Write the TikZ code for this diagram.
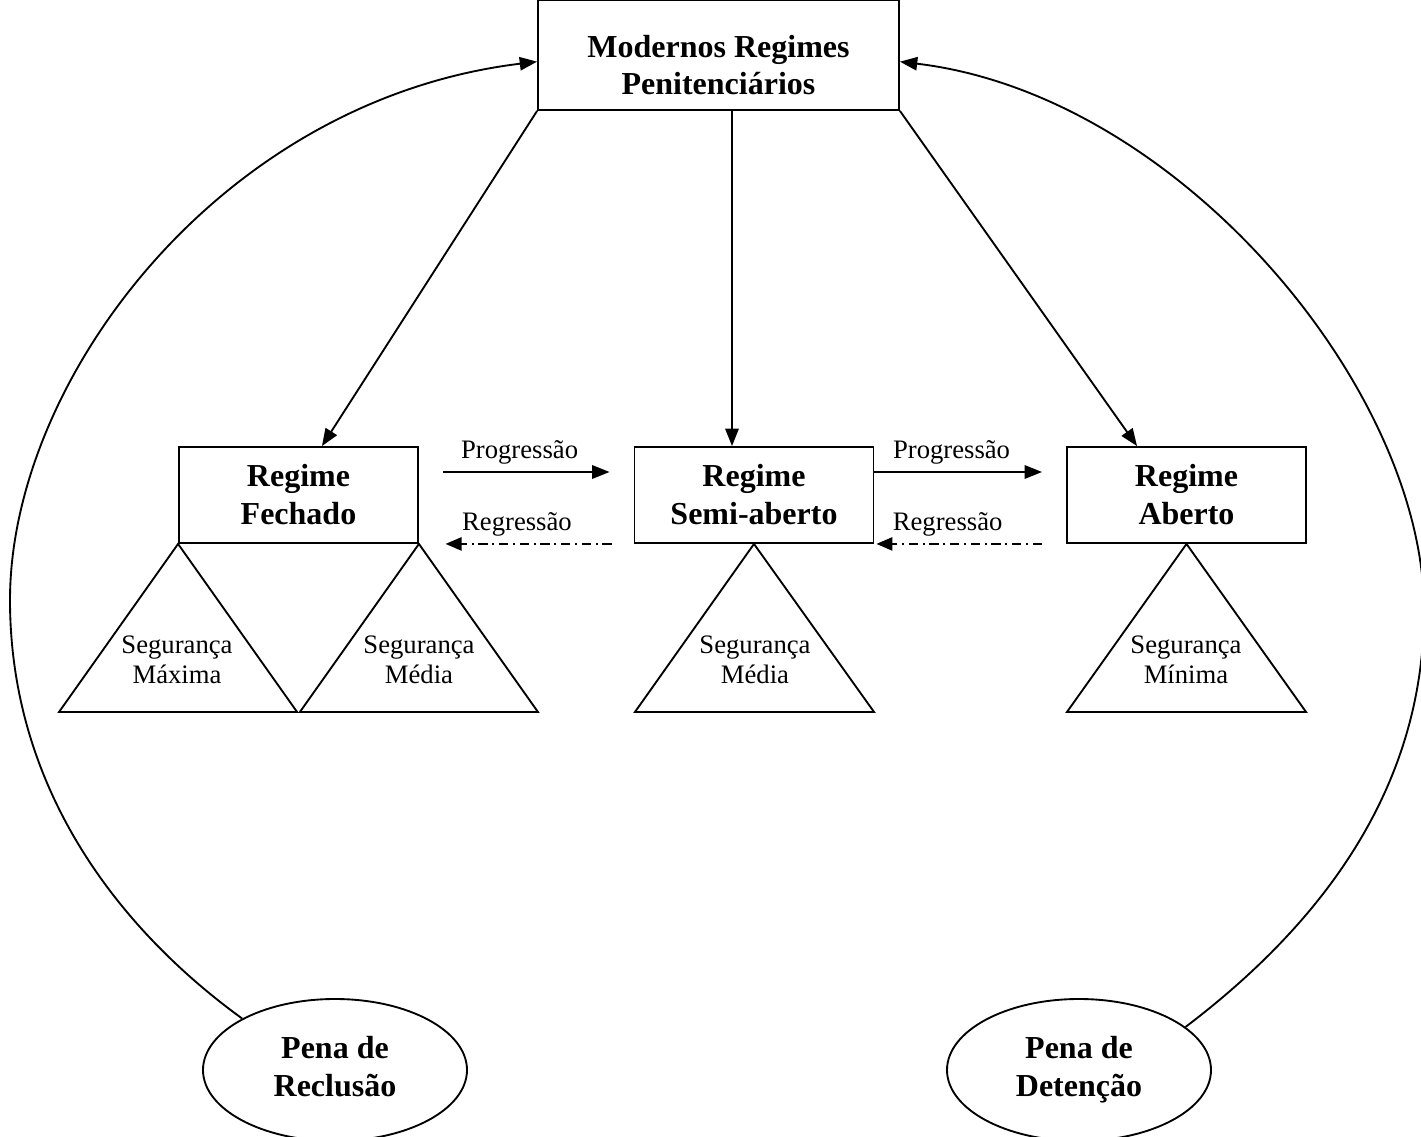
\documentclass[tikz,border=0pt]{standalone}
\usepackage{fontspec}
\setmainfont{Liberation Serif}
\usetikzlibrary{
  arrows.meta,
  positioning,
  shapes.geometric
}
\tikzset{
  topbox/.style={draw,line width=1.4pt,minimum width=270.75pt,minimum height=82.5pt,inner sep=0pt},
  boldtext/.style={align=center,inner sep=0pt,font=\fontsize{24}{27.6}\selectfont\bfseries},
  regbox/.style={draw,line width=1.4pt,minimum width=179.25pt,minimum height=72pt,inner sep=0pt,align=center,font=\fontsize{24}{28.5}\selectfont\bfseries},
  penanode/.style={draw,ellipse,line width=1.4pt,minimum width=198pt,minimum height=106.5pt,inner sep=0pt,align=center,font=\fontsize{24}{28.5}\selectfont\bfseries},
  seglabel/.style={align=center,inner sep=0pt,font=\fontsize{20}{22.5}\selectfont},
  steplabel/.style={inner sep=0pt,font=\fontsize{20}{24}\selectfont},
  triangle/.style={line width=1.4pt,line join=miter},
  linkarrow/.style={-{Triangle[length=13pt,width=10pt]},line width=1.4pt},
  progflow/.style={-{Triangle[length=13pt,width=10pt]},line width=1.4pt},
  regflow/.style={-{Triangle[length=12pt,width=10pt]},line width=1.2pt,dash pattern=on 7pt off 3.5pt on 1.5pt off 3.5pt}
}

\begin{document}
\begin{tikzpicture}[x=0.75pt,y=-0.75pt]
\useasboundingbox (0,0) rectangle (1421,1137);
\clip (0,0) rectangle (1421,1137);

% regimes
\node[topbox] (modern) at (718.5,55) {};
\node[boldtext] (moderntext) at (718.5,65) {Modernos Regimes\\Penitenciários};
\node[regbox] (fech) at (298.5,495) {Regime\\Fechado};
\node[regbox] (semi) at (754,495) {Regime\\Semi-aberto};
\node[regbox] (aber) at (1186.5,495) {Regime\\Aberto};

% penas
\node[penanode] (reclusao) at (335,1070) {Pena de\\Reclusão\vphantom{ç}};
\node[penanode] (detencao) at (1079,1070) {Pena de\\Detenção};

% niveis de seguranca
\draw[triangle] (fech.south west) -- ++(-119,168) -- ++(238,0) -- cycle;
\draw[triangle] (fech.south east) -- ++(-119,168) -- ++(238,0) -- cycle;
\draw[triangle] (semi.south) -- ++(-119,168) -- ++(239,0) -- cycle;
\draw[triangle] (aber.south) -- ++(-119.5,168) -- ++(239,0) -- cycle;
\node[seglabel] (segmax) at (177,660) {Segurança\\Máxima};
\node[seglabel] (segmed1) at (419,660) {Segurança\\Média};
\node[seglabel] (segmed2) at (755,660) {Segurança\\Média};
\node[seglabel] (segmin) at (1186,660) {Segurança\\Mínima};

% ligacoes
\draw[linkarrow] (modern.south west) -- ([xshift=17.6pt]fech.north);
\draw[linkarrow] ([xshift=10.1pt]modern.south) -- ([xshift=-16.5pt]semi.north);
\draw[linkarrow] (modern.south east) -- ([xshift=-37.1pt]aber.north);

\draw[linkarrow] (reclusao.151) .. controls (120,930) and (10,790) .. (10,600)
  .. controls (10,380) and (220,100) .. ([yshift=-5pt]modern.west);
\draw[linkarrow] (detencao.22) .. controls (1320,925) and (1424,790) .. (1424,610)
  .. controls (1424,390) and (1180,95) .. ([yshift=-5pt]modern.east);

% progressao / regressao
\draw[progflow] ([xshift=18pt,yshift=17.25pt]fech.east) -- node[steplabel,above=5pt,pos=0.46] (prog1) {Progressão} ([xshift=-18pt,yshift=17.25pt]semi.west);
\draw[regflow] ([xshift=-16.5pt]semi.south west) -- node[steplabel,above=5pt,pos=0.57] (regr1) {Regressão} ([xshift=20pt]fech.south east);
\draw[progflow] ([yshift=17.25pt]semi.east) -- node[steplabel,above=5pt,pos=0.46] (prog2) {Progressão} ([xshift=-18pt,yshift=17.25pt]aber.west);
\draw[regflow] ([xshift=-18pt]aber.south west) -- node[steplabel,above=5pt,pos=0.57] (regr2) {Regressão} ([xshift=1.5pt]semi.south east);
\end{tikzpicture}
\end{document}
